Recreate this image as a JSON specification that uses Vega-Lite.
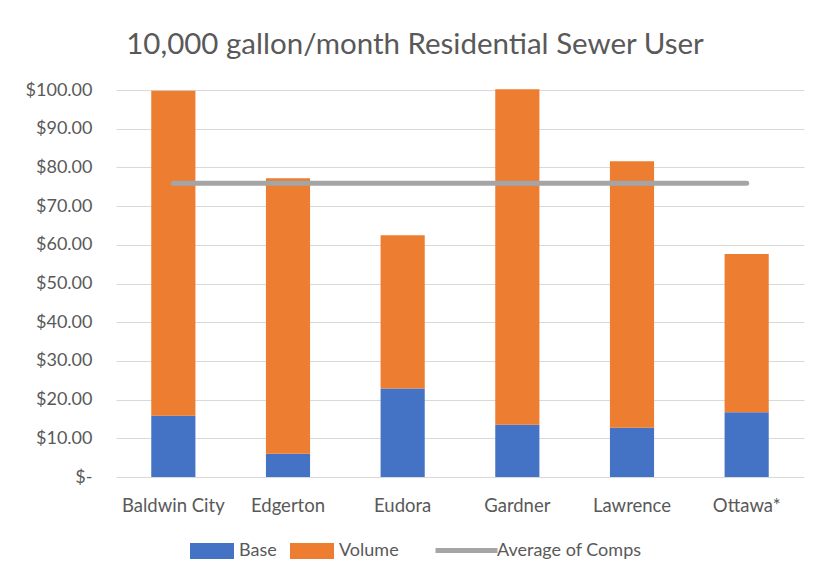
{
  "$schema": "https://vega.github.io/schema/vega-lite/v6.json",
  "autosize": "none",
  "width": 688,
  "height": 387,
  "padding": {"left": 116, "top": 90, "right": 13, "bottom": 98},
  "background": "white",
  "title": {
    "text": "10,000 gallon/month Residential Sewer User",
    "font": "Lato",
    "fontSize": 29.5,
    "fontWeight": "normal",
    "color": "#595959",
    "anchor": "middle",
    "dx": -45,
    "offset": 21
  },
  "datasets": {
    "bars": [
      {"city": "Baldwin City", "series": "Base", "value": 15.8},
      {"city": "Baldwin City", "series": "Volume", "value": 84.0},
      {"city": "Edgerton", "series": "Base", "value": 6.0},
      {"city": "Edgerton", "series": "Volume", "value": 71.2},
      {"city": "Eudora", "series": "Base", "value": 22.9},
      {"city": "Eudora", "series": "Volume", "value": 39.6},
      {"city": "Gardner", "series": "Base", "value": 13.5},
      {"city": "Gardner", "series": "Volume", "value": 86.7},
      {"city": "Lawrence", "series": "Base", "value": 12.7},
      {"city": "Lawrence", "series": "Volume", "value": 68.9},
      {"city": "Ottawa*", "series": "Base", "value": 16.7},
      {"city": "Ottawa*", "series": "Volume", "value": 40.9}
    ],
    "avg": [
      {"city": "Baldwin City", "series": "Average of Comps", "value": 75.9},
      {"city": "Edgerton", "series": "Average of Comps", "value": 75.9},
      {"city": "Eudora", "series": "Average of Comps", "value": 75.9},
      {"city": "Gardner", "series": "Average of Comps", "value": 75.9},
      {"city": "Lawrence", "series": "Average of Comps", "value": 75.9},
      {"city": "Ottawa*", "series": "Average of Comps", "value": 75.9}
    ]
  },
  "encoding": {
    "x": {
      "field": "city",
      "type": "nominal",
      "sort": null,
      "scale": {"paddingInner": 0.615, "paddingOuter": 0.3075},
      "axis": {
        "title": null,
        "labelAngle": 0,
        "labelFont": "Lato",
        "labelFontSize": 18.5,
        "labelColor": "#595959",
        "labelPadding": 19,
        "ticks": false,
        "domain": false,
        "grid": false
      }
    },
    "y": {
      "field": "value",
      "type": "quantitative",
      "scale": {"domain": [0, 100], "nice": false},
      "axis": {
        "title": null,
        "values": [0, 10, 20, 30, 40, 50, 60, 70, 80, 90, 100],
        "labelOverlap": false,
        "labelExpr": "datum.value == 0 ? '$-\u00a0\u00a0\u00a0' : format(datum.value, '$,.2f')",
        "labelFont": "Lato",
        "labelFontSize": 18,
        "labelColor": "#595959",
        "labelPadding": 24,
        "ticks": false,
        "domain": false,
        "gridColor": "#d9d9d9",
        "gridWidth": 1
      }
    }
  },
  "layer": [
    {
      "data": {"name": "bars"},
      "mark": {"type": "bar"},
      "encoding": {
        "color": {
          "field": "series",
          "type": "nominal",
          "sort": ["Base", "Volume"],
          "scale": {"domain": ["Base", "Volume"], "range": ["#4472C4", "#ED7D31"]},
          "legend": {
            "title": null,
            "orient": "none",
            "direction": "horizontal",
            "legendX": 74,
            "legendY": 439,
            "symbolType": "M-1,-0.36H1V0.36H-1Z",
            "symbolSize": 1936,
            "symbolStrokeWidth": 0,
            "labelOffset": 5,
            "columnPadding": 13,
            "labelFont": "Lato",
            "labelFontSize": 18,
            "labelColor": "#595959"
          }
        },
        "order": {"field": "series", "sort": "ascending"}
      }
    },
    {
      "data": {"name": "avg"},
      "mark": {"type": "line", "strokeWidth": 5, "strokeCap": "round"},
      "encoding": {
        "stroke": {
          "field": "series",
          "type": "nominal",
          "scale": {"domain": ["Average of Comps"], "range": ["#A5A5A5"]},
          "legend": {
            "title": null,
            "orient": "none",
            "direction": "horizontal",
            "legendX": 317,
            "legendY": 427,
            "symbolType": "M-1,0H1",
            "symbolSize": 3844,
            "symbolStrokeWidth": 5,
            "labelOffset": -3,
            "labelFont": "Lato",
            "labelFontSize": 18,
            "labelColor": "#595959"
          }
        }
      }
    }
  ],
  "config": {"view": {"stroke": null}}
}
